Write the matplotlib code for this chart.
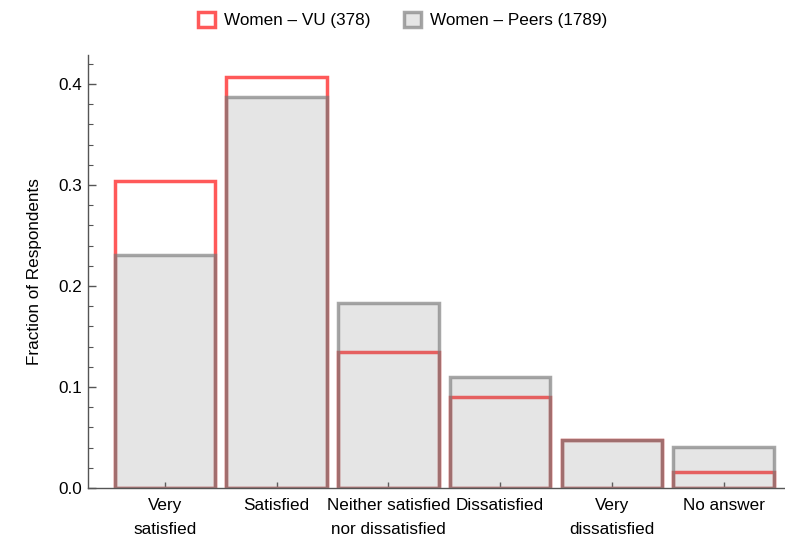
import numpy as np
import matplotlib.pyplot as plt
from matplotlib.patches import Patch
from matplotlib.ticker import MultipleLocator

plt.rcParams['font.family'] = ['Liberation Sans', 'DejaVu Sans']

# categories and fractions
categories = ['Very\nsatisfied', 'Satisfied', 'Neither satisfied\nnor dissatisfied',
              'Dissatisfied', 'Very\ndissatisfied', 'No answer']
vu_women = [0.304, 0.407, 0.135, 0.090, 0.048, 0.016]
peers_women = [0.231, 0.387, 0.183, 0.110, 0.048, 0.041]
yticks = [0.0, 0.1, 0.2, 0.3, 0.4]
vu_label = 'Women \u2013 VU (378)'
peers_label = 'Women \u2013 Peers (1789)'

red = (1.0, 0.35, 0.35)
peer_face = (0.5, 0.5, 0.5, 0.2)
peer_edge = (0.47, 0.47, 0.47, 0.65)
fs = 12.3

fig = plt.figure(figsize=(7.85, 5.52), dpi=100)
ax = fig.add_axes([0.1121, 0.1159, 0.8879, 0.7845])

x = np.arange(1, len(categories) + 1)
ax.bar(x, vu_women, width=0.9, facecolor='none', edgecolor=red, linewidth=2.5, zorder=2)
ax.bar(x, peers_women, width=0.9, facecolor=peer_face, edgecolor=peer_edge, linewidth=2.5, zorder=3)

ax.set_xlim(0.311, 6.55)
ax.set_ylim(0, 0.4287)
ax.set_xticks(x)
ax.set_xticklabels(categories, fontsize=fs, linespacing=1.75)
ax.set_yticks(yticks)
ax.set_yticklabels([f'{v:.1f}' for v in yticks], fontsize=fs)
ax.yaxis.set_minor_locator(MultipleLocator(0.02))

ax.tick_params(axis='both', which='major', direction='in', length=6, width=1, color='#555555', pad=4)
ax.tick_params(axis='y', which='minor', direction='in', length=3.5, width=0.8, color='#555555')
ax.tick_params(axis='x', which='major', length=4, pad=7)
for s in ['top', 'right']:
    ax.spines[s].set_visible(False)
for s in ['left', 'bottom']:
    ax.spines[s].set_color('#555555')
    ax.spines[s].set_linewidth(1.0)

ax.set_ylabel('Fraction of Respondents', fontsize=fs, labelpad=12)

handles = [Patch(facecolor='none', edgecolor=red, linewidth=2.5, label=vu_label),
           Patch(facecolor=peer_face, edgecolor=peer_edge, linewidth=2.5, label=peers_label)]
fig.legend(handles=handles, loc='center', bbox_to_anchor=(0.513, 0.964), ncol=2, frameon=False,
           fontsize=fs, handlelength=1.0, handleheight=1.0, handletextpad=0.5, columnspacing=2.0)

fig.savefig('out.png', dpi=100)
